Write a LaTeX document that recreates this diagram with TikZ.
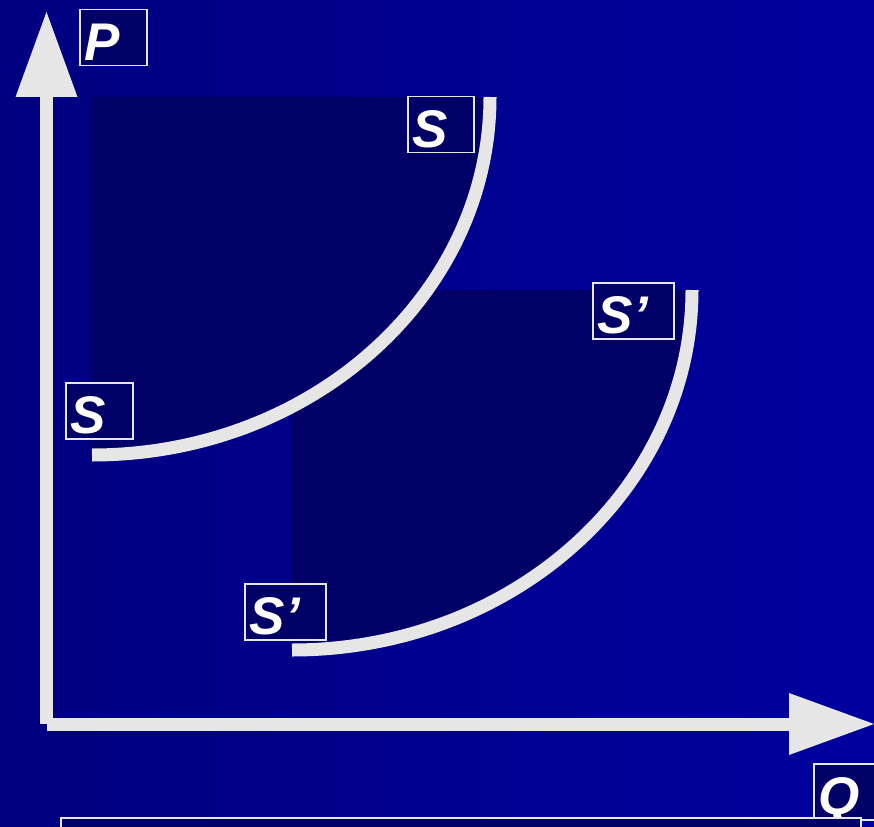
\documentclass[tikz,border=0pt]{standalone}
\usepackage{fontspec}
\setsansfont{Liberation Sans}
\usetikzlibrary{arrows.meta}
\definecolor{bgleft}{RGB}{0,0,128}
\definecolor{bgright}{RGB}{0,0,158}
\definecolor{curvefill}{RGB}{0,0,102}
\definecolor{linegray}{RGB}{230,230,230}

\begin{document}
\begin{tikzpicture}[x=1pt, y=-1pt,
  axis/.style={line width=13pt, color=linegray,
               -{Triangle[length=85pt, width=62pt, line width=0pt]}},
  supply/.style={line width=13pt, color=linegray},
  area/.style={fill=curvefill},
  lbl/.style={draw=linegray, line width=1.5pt, fill=curvefill, text=white,
              font=\sffamily\bfseries\itshape\fontsize{53}{60}\selectfont,
              anchor=north west, align=left, inner xsep=5pt, inner ysep=0pt,
              text height=45pt, text depth=0pt, minimum height=56pt},
  capbox/.style={draw=linegray, line width=1.5pt, fill=curvefill,
                 anchor=north west, minimum width=800pt, minimum height=60pt},
]

% Background
\clip (0,0) rectangle (874,826);
\shade[left color=bgleft, right color=bgright] (0,0) rectangle (874,826);

% Axes
\coordinate (origin) at (46.5,724);
\coordinate (ptip) at (46.5,12);
\coordinate (qtip) at (874,724);
\draw[axis] (origin) -- (ptip);
\draw[axis] (origin) -- (qtip);

% Areas under S and S'
\coordinate (s1corner) at (92,97);
\coordinate (s1top) at (490,97);
\coordinate (s2corner) at (292,290);
\coordinate (s2top) at (692,290);
\fill[area] (s1corner) -- (s1top) arc[start angle=0, end angle=90, x radius=398, y radius=358] -- cycle;
\fill[area] (s2corner) -- (s2top) arc[start angle=0, end angle=90, x radius=400, y radius=360] -- cycle;

% Supply curves
\draw[supply] (s1top) arc[start angle=0, end angle=90, x radius=398, y radius=358];
\draw[supply] (s2top) arc[start angle=0, end angle=90, x radius=400, y radius=360];

% Labels
\node[lbl, text width=57pt] (lblP) at (79,9) {P};
\node[lbl, text width=56pt] (lblStop) at (407,96) {S};
\node[lbl, text width=71pt] (lblSptop) at (592,282) {S’};
\node[lbl, text width=57pt] (lblSbot) at (65,382) {S};
\node[lbl, text width=71pt] (lblSpbot) at (244,583) {S’};
\node[lbl, text width=57pt] (lblQ) at (813,763) {Q};

% Caption box
\node[capbox] (caption) at (60,817) {};

\end{tikzpicture}
\end{document}
